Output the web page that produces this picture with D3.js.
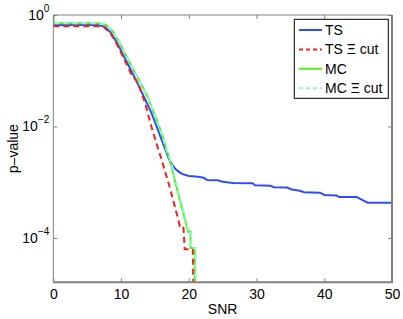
<!DOCTYPE html>
<html>
<head>
<meta charset="utf-8">
<script src="https://cdn.jsdelivr.net/npm/d3@7"></script>
<style>
body { margin: 0; background: #fff; }
text { font-family: "Liberation Sans", Arial, sans-serif; }
</style>
</head>
<body>
<svg width="403" height="319"></svg>
<script>
// values (SNR, p-value)
var tsSnr = [0, 6.5, 7.5, 8.5, 9.5, 10.5, 11.5, 12.5, 13.5, 14.5, 15.5, 16.5, 17, 17.5, 18, 18.5, 19, 20, 21,
    21.6, 22.2, 22.7, 24.3, 25.0, 26.5, 29.4, 29.8, 32.0, 32.6, 34.5, 35.2, 36.4, 37.0, 39.4, 40.0, 41.8, 42.2, 44.8, 45.6, 46.4, 50];
var tsP = [0.661, 0.661, 0.631, 0.479, 0.302, 0.174, 0.1, 0.0575, 0.0316, 0.0174, 0.00832, 0.00398, 0.00275, 0.00209, 0.00174, 0.00155, 0.00141, 0.00129, 0.00126,
    1.24e-3, 1.20e-3, 1.10e-3, 1.08e-3, 1.02e-3, 9.7e-4, 9.6e-4, 8.8e-4, 8.6e-4, 8.1e-4, 8.0e-4, 7.4e-4, 7.0e-4, 6.6e-4, 6.5e-4, 5.9e-4, 5.8e-4, 5.4e-4, 5.4e-4, 4.8e-4, 4.3e-4, 4.3e-4];

var tsCutSnr = [0, 6.5, 7.5, 8.5, 9.5, 10.5, 11.5, 12.5, 13.5, 14.5, 15.5, 16, 17.3, 18.7, 19.2, 19.4, 20.6, 20.8];
var tsCutP = [0.631, 0.631, 0.603, 0.457, 0.282, 0.158, 0.0871, 0.0603, 0.0275, 0.00977, 0.00389, 0.00251, 7.24e-4, 1.62e-4, 1.62e-4, 6.3e-5, 6.3e-5, 1e-6];

var mcSnr = [0, 0.1, 6.8, 7.8, 8.8, 9.8, 10.8, 11.8, 12.8, 13.8, 14.8, 15.8, 16.8, 17.2, 18.3, 19.9, 20.25, 20.25, 20.9, 20.9];
var mcP = [1, 0.708, 0.708, 0.661, 0.501, 0.316, 0.182, 0.105, 0.0631, 0.0363, 0.0182, 0.00891, 0.00355, 0.00251, 7.24e-4, 1.29e-4, 1.29e-4, 6.6e-5, 6.6e-5, 1e-6];

var mcCutSnr = [0, 0.1, 6.8, 7.8, 8.8, 9.8, 10.8, 11.8, 12.8, 13.8, 14.8, 15.8, 16.8, 17.3, 18.4, 20.0, 20.35, 20.35, 21.0, 21.0];
var mcCutP = [1, 0.708, 0.708, 0.661, 0.501, 0.316, 0.182, 0.105, 0.0631, 0.0363, 0.0182, 0.00891, 0.00355, 0.00251, 7.24e-4, 1.29e-4, 1.29e-4, 6.6e-5, 6.6e-5, 1e-6];

var xTicks = [0, 10, 20, 30, 40, 50];
var yTicks = [1, 1e-2, 1e-4];
var yExp = ["0", "\u22122", "\u22124"];

var series = [
    { name: "TS", snr: tsSnr, p: tsP, color: "#2b4cff", dash: null },
    { name: "TS \u039e cut", snr: tsCutSnr, p: tsCutP, color: "#ff1a1a", dash: "6,4" },
    { name: "MC", snr: mcSnr, p: mcP, color: "#5cf01a", dash: null },
    { name: "MC \u039e cut", snr: mcCutSnr, p: mcCutP, color: "#8cf8de", dash: "5,4" }
];

var svg = d3.select("svg"),
    plotL = 53.3, plotR = 392, plotT = 15, plotB = 282.3;

var x = d3.scaleLinear().domain([0, 50]).range([plotL, plotR]);
var y = d3.scaleLog().domain([1.6e-5, 1]).range([plotB, plotT]);

svg.append("clipPath").attr("id", "plotclip")
    .append("rect")
    .attr("x", plotL).attr("y", plotT)
    .attr("width", plotR - plotL).attr("height", plotB - plotT);

var line = d3.line()
    .x(function (d) { return x(d[0]); })
    .y(function (d) { return y(d[1]); });

series.forEach(function (s) {
    var pts = s.snr.map(function (v, i) { return [v, s.p[i]]; });
    svg.append("path")
        .attr("clip-path", "url(#plotclip)")
        .attr("d", line(pts))
        .attr("fill", "none")
        .attr("stroke", s.color)
        .attr("stroke-width", 2)
        .attr("stroke-dasharray", s.dash);
});

// frame
var frame = "#808080";
svg.append("line").attr("x1", plotL).attr("x2", plotR).attr("y1", plotT).attr("y2", plotT)
    .attr("stroke", frame).attr("stroke-width", 1);
svg.append("line").attr("x1", plotL).attr("x2", plotL).attr("y1", plotT).attr("y2", plotB)
    .attr("stroke", frame).attr("stroke-width", 1);
svg.append("line").attr("x1", plotL).attr("x2", plotR + 1).attr("y1", plotB).attr("y2", plotB)
    .attr("stroke", frame).attr("stroke-width", 2);
svg.append("line").attr("x1", plotR).attr("x2", plotR).attr("y1", plotT).attr("y2", plotB)
    .attr("stroke", frame).attr("stroke-width", 2);

// axes
var xAxisB = d3.axisBottom(x).tickValues(xTicks).tickSizeInner(-4).tickSizeOuter(0).tickPadding(7);
var gx = svg.append("g").attr("transform", "translate(0," + plotB + ")").call(xAxisB);
gx.select(".domain").remove();
gx.selectAll("line").attr("stroke", frame);
gx.selectAll("text").attr("font-size", 14).attr("font-family", "Liberation Sans, Arial, sans-serif").attr("fill", "#000");

var gxt = svg.append("g").attr("transform", "translate(0," + plotT + ")")
    .call(d3.axisTop(x).tickValues(xTicks).tickSizeInner(-4).tickSizeOuter(0).tickFormat(""));
gxt.select(".domain").remove();
gxt.selectAll("line").attr("stroke", frame);

var gyl = svg.append("g").attr("transform", "translate(" + plotL + ",0)")
    .call(d3.axisLeft(y).tickValues(yTicks).tickSizeInner(-4).tickSizeOuter(0).tickFormat(""));
gyl.select(".domain").remove();
gyl.selectAll("line").attr("stroke", frame);

var gyr = svg.append("g").attr("transform", "translate(" + plotR + ",0)")
    .call(d3.axisRight(y).tickValues(yTicks).tickSizeInner(-4).tickSizeOuter(0).tickFormat(""));
gyr.select(".domain").remove();
gyr.selectAll("line").attr("stroke", frame);

yTicks.forEach(function (t, i) {
    var lbl = svg.append("text")
        .attr("x", plotL - 4)
        .attr("y", y(t) + 5)
        .attr("text-anchor", "end")
        .attr("font-size", 14)
        .text("10");
    lbl.append("tspan")
        .attr("dy", -8)
        .attr("font-size", 10)
        .text(yExp[i]);
});

svg.append("text")
    .attr("x", (plotL + plotR) / 2)
    .attr("y", 314)
    .attr("text-anchor", "middle")
    .attr("font-size", 14)
    .text("SNR");

svg.append("text")
    .attr("transform", "translate(18," + ((plotT + plotB) / 2) + ") rotate(-90)")
    .attr("text-anchor", "middle")
    .attr("font-size", 14)
    .text("p\u2013value");

// legend
var lg = svg.append("g");
lg.append("rect")
    .attr("x", 294.3).attr("y", 19.3)
    .attr("width", 94).attr("height", 79)
    .attr("fill", "#fff").attr("stroke", "#000").attr("stroke-width", 1);
series.forEach(function (s, i) {
    var cy = 30 + i * 19.4;
    lg.append("line")
        .attr("x1", 299).attr("x2", 322)
        .attr("y1", cy).attr("y2", cy)
        .attr("stroke", s.color).attr("stroke-width", 2)
        .attr("stroke-dasharray", s.dash ? "4,3" : null);
    lg.append("text")
        .attr("x", 325).attr("y", cy + 5)
        .attr("font-size", 14)
        .text(s.name);
});
</script>
</body>
</html>
